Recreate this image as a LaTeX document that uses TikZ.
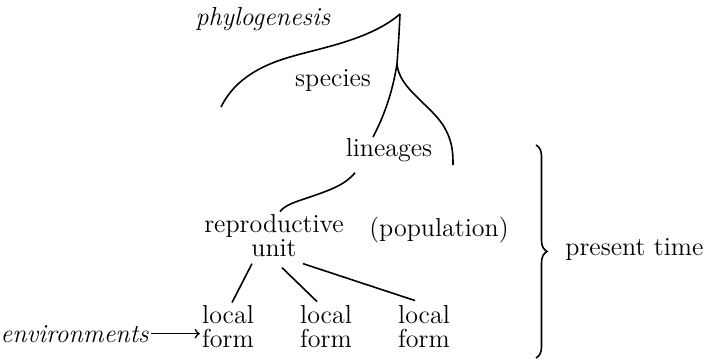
\documentclass[tikz,border=0pt]{standalone}
\usetikzlibrary{decorations.pathreplacing}

\begin{document}
\begin{tikzpicture}[x=.5pt,y=-.5pt,
  font=\fontsize{13}{12}\selectfont,
  lbl/.style={inner sep=1pt,align=center},
  branch/.style={line width=.8pt}]
\useasboundingbox (0,0) rectangle (705,363);
% tree points
\coordinate (apex) at (400,14);
\coordinate (fork) at (397,64);
\coordinate (lend) at (221,107);
\coordinate (mend) at (373,137);
\coordinate (rend) at (453,165);
% labels
\node[lbl,anchor=base,font=\fontsize{13}{12}\selectfont\itshape] (phylo) at (263,26) {phylogenesis};
\node[lbl,anchor=base] (spec) at (333,87) {species};
\node[lbl,anchor=base] (lin) at (389,157) {lineages};
\node[lbl,anchor=base] (rep) at (274,256) {reproductive\\unit};
\node[lbl,anchor=base] (pop) at (439,236) {(population)};
\node[lbl,anchor=base] (lf1) at (228,347) {local\\form};
\node[lbl,anchor=base] (lf2) at (326,347) {local\\form};
\node[lbl,anchor=base] (lf3) at (424,347) {local\\form};
\node[lbl,anchor=base east,font=\fontsize{13}{12}\selectfont\itshape] (env) at (151,342) {environments};
\node[lbl,anchor=base west] (pres) at (563,255) {present time};
% branches
\draw[branch] (apex) .. controls (370,40) and (320,48) .. (290,57)
  .. controls (252,68) and (232,85) .. (lend);
\draw[branch] (apex) .. controls (399,35) .. (fork)
  .. controls (392,95) and (383,118) .. (mend);
\draw[branch] (fork) .. controls (399,88) and (428,103) .. (443,125)
  .. controls (452,140) and (453,150) .. (rend);
\draw[branch] ([shift={(-34,8)}]lin.south) .. controls (345,185) and (330,190) .. (310,197)
  .. controls (295,202) and (285,205) .. ([shift={(6,0)}]rep.north);
\draw[branch] ([shift={(-22,5)}]rep.south) -- ([shift={(4,0)}]lf1.north);
\draw[branch] ([shift={(8,9)}]rep.south) -- ([shift={(-9,-1)}]lf2.north);
\draw[branch] ([shift={(29,5)}]rep.south) -- ([shift={(-9,-2)}]lf3.north);
\draw[branch,->] (env.east) -- (env.east -| lf1.west);
% brace
\draw[branch,decorate,decoration={brace,amplitude=5.5pt}] (536,145) -- (536,358);
\end{tikzpicture}
\end{document}
